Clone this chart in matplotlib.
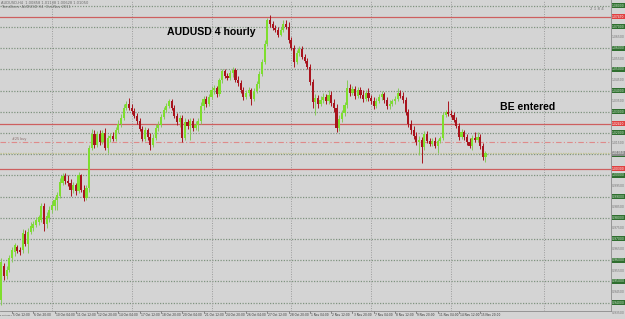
import numpy as np
import pandas as pd
import matplotlib
matplotlib.use("Agg")
import matplotlib.pyplot as plt
from matplotlib.transforms import blended_transform_factory
from matplotlib.patches import Rectangle

# ---------------- data (AUDUSD H4, Oct-Nov 2011) ----------------
first_bar_time = "2011-10-05 12:00"   # bar index 0
bar_index = list(range(-4, 179))

opens = [
    .9411, .9572, .9525, .9553,
    .9609, .9638, .9661, .9647, .9647, .9722, .9675, .9732, .9751, .9765,
    .9780, .9789, .9855, .9770, .9798, .9836, .9855, .9883, .9902, .9963,
    .9997, .9972, .9963, .9930, .9953, .9925, 1.0001, .9930, .9892, .9939,
    1.0128, 1.0194, 1.0142, 1.0194, 1.0157, 1.0199, 1.0128, 1.0175, 1.0185, 1.0170,
    1.0213, 1.0242, 1.0270, 1.0317, 1.0336, 1.0317, 1.0303, 1.0280, 1.0256, 1.0219,
    1.0170, 1.0213, 1.0180, 1.0142, 1.0175, 1.0223, 1.0237, 1.0275, 1.0308, 1.0327,
    1.0350, 1.0317, 1.0280, 1.0252, 1.0270, 1.0175, 1.0252, 1.0233, 1.0256, 1.0223,
    1.0237, 1.0256, 1.0327, 1.0360, 1.0336, 1.0369, 1.0402, 1.0411, 1.0383, 1.0449,
    1.0492, 1.0469, 1.0459, 1.0483, 1.0497, 1.0449, 1.0435, 1.0402, 1.0369, 1.0388,
    1.0402, 1.0360, 1.0397, 1.0430, 1.0478, 1.0535, 1.0619, 1.0733, 1.0714, 1.0695,
    1.0685, 1.0661, 1.0685, 1.0714, 1.0700, 1.0638, 1.0600, 1.0535, 1.0577, 1.0596,
    1.0558, 1.0539, 1.0511, 1.0440, 1.0345, 1.0364, 1.0336, 1.0355, 1.0369, 1.0350,
    1.0378, 1.0341, 1.0317, 1.0223, 1.0266, 1.0294, 1.0331, 1.0411, 1.0388, 1.0407,
    1.0374, 1.0402, 1.0378, 1.0360, 1.0388, 1.0364, 1.0350, 1.0327, 1.0350, 1.0369,
    1.0383, 1.0355, 1.0327, 1.0336, 1.0350, 1.0360, 1.0388, 1.0374, 1.0355, 1.0299,
    1.0242, 1.0213, 1.0185, 1.0157, 1.0166, 1.0133, 1.0194, 1.0161, 1.0147, 1.0161,
    1.0138, 1.0161, 1.0175, 1.0284, 1.0299, 1.0289, 1.0284, 1.0261, 1.0233, 1.0180,
    1.0204, 1.0180, 1.0157, 1.0138, 1.0175, 1.0166, 1.0180, 1.0138, 1.0086,
]
highs = [
    .9609, .9586, .9572, .9623,
    .9661, .9680, .9670, .9661, .9747, .9741, .9751, .9780, .9784, .9803,
    .9812, .9869, .9869, .9827, .9855, .9878, .9897, .9921, .9987, 1.0011,
    1.0011, 1.0001, .9982, .9968, .9963, 1.0016, 1.0006, .9953, .9953, 1.0142,
    1.0219, 1.0213, 1.0208, 1.0213, 1.0213, 1.0223, 1.0189, 1.0199, 1.0204, 1.0228,
    1.0261, 1.0289, 1.0336, 1.0350, 1.0364, 1.0336, 1.0317, 1.0294, 1.0270, 1.0233,
    1.0228, 1.0223, 1.0199, 1.0194, 1.0242, 1.0256, 1.0289, 1.0322, 1.0341, 1.0360,
    1.0360, 1.0331, 1.0294, 1.0284, 1.0284, 1.0270, 1.0266, 1.0270, 1.0270, 1.0256,
    1.0270, 1.0345, 1.0374, 1.0374, 1.0383, 1.0421, 1.0425, 1.0421, 1.0459, 1.0502,
    1.0502, 1.0483, 1.0497, 1.0511, 1.0506, 1.0469, 1.0449, 1.0416, 1.0402, 1.0416,
    1.0411, 1.0411, 1.0444, 1.0492, 1.0549, 1.0638, 1.0742, 1.0756, 1.0728, 1.0709,
    1.0700, 1.0700, 1.0733, 1.0733, 1.0723, 1.0652, 1.0614, 1.0591, 1.0610, 1.0610,
    1.0572, 1.0553, 1.0525, 1.0454, 1.0383, 1.0378, 1.0374, 1.0388, 1.0383, 1.0402,
    1.0397, 1.0360, 1.0336, 1.0284, 1.0308, 1.0345, 1.0449, 1.0430, 1.0421, 1.0421,
    1.0416, 1.0416, 1.0402, 1.0402, 1.0411, 1.0378, 1.0369, 1.0364, 1.0383, 1.0397,
    1.0392, 1.0369, 1.0355, 1.0360, 1.0374, 1.0411, 1.0402, 1.0392, 1.0369, 1.0313,
    1.0261, 1.0233, 1.0204, 1.0185, 1.0180, 1.0208, 1.0208, 1.0175, 1.0175, 1.0180,
    1.0170, 1.0185, 1.0299, 1.0308, 1.0350, 1.0308, 1.0299, 1.0275, 1.0247, 1.0218,
    1.0213, 1.0194, 1.0175, 1.0189, 1.0204, 1.0204, 1.0194, 1.0152, 1.0114,
]
lows = [
    .9387, .9505, .9511, .9544,
    .9591, .9619, .9633, .9623, .9633, .9666, .9633, .9722, .9736, .9756,
    .9765, .9780, .9736, .9751, .9780, .9822, .9836, .9836, .9892, .9953,
    .9958, .9949, .9902, .9916, .9906, .9916, .9921, .9878, .9883, .9921,
    1.0119, 1.0128, 1.0133, 1.0142, 1.0147, 1.0119, 1.0105, 1.0157, 1.0161, 1.0161,
    1.0199, 1.0228, 1.0261, 1.0308, 1.0308, 1.0289, 1.0270, 1.0242, 1.0208, 1.0161,
    1.0161, 1.0166, 1.0119, 1.0133, 1.0166, 1.0208, 1.0228, 1.0266, 1.0299, 1.0317,
    1.0308, 1.0270, 1.0237, 1.0228, 1.0157, 1.0166, 1.0218, 1.0166, 1.0208, 1.0213,
    1.0208, 1.0242, 1.0308, 1.0322, 1.0327, 1.0360, 1.0383, 1.0369, 1.0374, 1.0435,
    1.0459, 1.0449, 1.0449, 1.0464, 1.0440, 1.0421, 1.0388, 1.0355, 1.0360, 1.0374,
    1.0331, 1.0350, 1.0388, 1.0411, 1.0469, 1.0525, 1.0610, 1.0700, 1.0685, 1.0676,
    1.0652, 1.0657, 1.0676, 1.0690, 1.0624, 1.0591, 1.0511, 1.0525, 1.0563, 1.0549,
    1.0530, 1.0502, 1.0425, 1.0317, 1.0284, 1.0317, 1.0327, 1.0341, 1.0336, 1.0336,
    1.0327, 1.0299, 1.0204, 1.0208, 1.0252, 1.0280, 1.0317, 1.0374, 1.0378, 1.0360,
    1.0364, 1.0364, 1.0345, 1.0350, 1.0350, 1.0336, 1.0313, 1.0317, 1.0341, 1.0355,
    1.0341, 1.0313, 1.0313, 1.0327, 1.0336, 1.0350, 1.0364, 1.0341, 1.0284, 1.0228,
    1.0194, 1.0170, 1.0142, 1.0095, 1.0058, 1.0119, 1.0152, 1.0138, 1.0138, 1.0128,
    1.0105, 1.0152, 1.0166, 1.0275, 1.0280, 1.0275, 1.0252, 1.0223, 1.0166, 1.0170,
    1.0166, 1.0142, 1.0128, 1.0119, 1.0157, 1.0157, 1.0124, 1.0072, 1.0063,
]
closes = [
    .9591, .9525, .9553, .9609,
    .9647, .9670, .9642, .9638, .9727, .9675, .9732, .9761, .9770, .9789,
    .9803, .9855, .9770, .9808, .9836, .9859, .9883, .9906, .9968, .9997,
    .9972, .9963, .9930, .9953, .9925, 1.0001, .9930, .9892, .9939, 1.0128,
    1.0194, 1.0142, 1.0194, 1.0157, 1.0199, 1.0128, 1.0175, 1.0185, 1.0170, 1.0213,
    1.0242, 1.0270, 1.0317, 1.0336, 1.0317, 1.0303, 1.0280, 1.0256, 1.0219, 1.0170,
    1.0213, 1.0180, 1.0142, 1.0175, 1.0223, 1.0237, 1.0275, 1.0308, 1.0327, 1.0350,
    1.0317, 1.0280, 1.0252, 1.0270, 1.0175, 1.0252, 1.0233, 1.0256, 1.0223, 1.0237,
    1.0256, 1.0327, 1.0360, 1.0336, 1.0369, 1.0402, 1.0411, 1.0383, 1.0449, 1.0492,
    1.0469, 1.0459, 1.0483, 1.0497, 1.0449, 1.0435, 1.0402, 1.0369, 1.0388, 1.0402,
    1.0360, 1.0397, 1.0430, 1.0478, 1.0535, 1.0619, 1.0733, 1.0714, 1.0695, 1.0685,
    1.0661, 1.0685, 1.0714, 1.0700, 1.0638, 1.0600, 1.0535, 1.0577, 1.0596, 1.0558,
    1.0539, 1.0511, 1.0440, 1.0345, 1.0364, 1.0336, 1.0355, 1.0369, 1.0350, 1.0378,
    1.0341, 1.0317, 1.0223, 1.0266, 1.0294, 1.0331, 1.0411, 1.0388, 1.0407, 1.0374,
    1.0402, 1.0378, 1.0360, 1.0388, 1.0364, 1.0350, 1.0327, 1.0350, 1.0369, 1.0383,
    1.0355, 1.0327, 1.0336, 1.0350, 1.0360, 1.0388, 1.0374, 1.0355, 1.0299, 1.0242,
    1.0213, 1.0185, 1.0157, 1.0166, 1.0133, 1.0194, 1.0161, 1.0147, 1.0161, 1.0138,
    1.0161, 1.0175, 1.0284, 1.0299, 1.0289, 1.0284, 1.0261, 1.0233, 1.0180, 1.0204,
    1.0180, 1.0157, 1.0138, 1.0175, 1.0166, 1.0180, 1.0138, 1.0086, 1.0105,
]

red_levels = [1.0747, 1.0242, 1.0030]
entry_level = 1.0157
bid_price = 1.0105
grid_prices = [1.08 - 0.01 * k for k in range(15)]
week_starts = [15, 45, 75, 105, 135, 165, 200]
label_every = 8
title_text = "AUDUSD 4 hourly"
note_text = "BE entered"
info_line1 = "AUDUSD,H4  1.00858 1.01138 1.00628 1.01050"
info_line2 = "Trendlines  AUDUSD H4  Oct-Nov 2011"

# ---------------- styling ----------------
W, H = 625, 319
bg = "#d4d4d4"
bull = "#7ede2e"
bull_wick = "#86c95a"
bear = "#a8141e"
bear_wick = "#a8141e"
grid_h = "#7f937f"
grid_v = "#9c9c9c"

fig = plt.figure(figsize=(W / 100, H / 100), dpi=100, facecolor=bg)
plot_right = 611
plot_bottom = 8
ax = fig.add_axes([0, plot_bottom / H, plot_right / W, (H - plot_bottom) / H])
ax.set_facecolor(bg)

px_per_bar = 2.66
x0_px = 12.0
ax.set_xlim((0 - x0_px) / px_per_bar, (plot_right - x0_px) / px_per_bar)
price_per_px = 0.01 / 21.2
top_price = 1.08 + 5.7 * price_per_px
ax.set_ylim(top_price - (H - plot_bottom) * price_per_px, top_price)

for s in ["top", "left"]:
    ax.spines[s].set_visible(False)
for s in ["bottom", "right"]:
    ax.spines[s].set_color("#8a8a8a")
    ax.spines[s].set_linewidth(0.6)
ax.set_xticks([])
ax.set_yticks([])

# grid
for gp in grid_prices:
    ax.axhline(gp, color=grid_h, lw=0.9, ls=(0, (1.0, 1.2)), zorder=1)
for wk in week_starts:
    ax.axvline(wk, color=grid_v, lw=0.7, ls=(0, (1.0, 1.5)), zorder=1)

# level lines
for lv in red_levels:
    ax.axhline(lv, color="#cd5f5f", lw=0.9, zorder=2)
ax.axhline(entry_level, color="#df8a8a", lw=0.8, ls=(0, (5, 2, 1, 2)), zorder=2)
ax.axhline(bid_price, color="#c4c48c", lw=0.9, ls=(0, (1.0, 1.0)), zorder=2)

# candles
idx = np.array(bar_index, dtype=float)
o = np.array(opens); h = np.array(highs); l = np.array(lows); c = np.array(closes)
up = c >= o
ax.vlines(idx[up], l[up], h[up], color=bull_wick, lw=0.7, zorder=3)
ax.vlines(idx[~up], l[~up], h[~up], color=bear_wick, lw=0.7, zorder=3)
body_lo = np.minimum(o, c)
body_h = np.maximum(np.abs(c - o), 0.00015)
ax.bar(idx[up], body_h[up], bottom=body_lo[up], width=0.8, color=bull,
       edgecolor="none", zorder=4)
ax.bar(idx[~up], body_h[~up], bottom=body_lo[~up], width=0.8, color=bear,
       edgecolor="none", zorder=4)

# annotations
ax.text(167 / plot_right, 1 - 32 / (H - plot_bottom), title_text,
        transform=ax.transAxes, fontsize=7.6, fontweight="bold",
        family="Liberation Sans", ha="left", va="center", color="black")
ax.text(500 / plot_right, 1 - 107 / (H - plot_bottom), note_text,
        transform=ax.transAxes, fontsize=7.6, fontweight="bold",
        family="Liberation Sans", ha="left", va="center", color="black")
ax.text(0.002, 1 - 3 / (H - plot_bottom), info_line1, transform=ax.transAxes,
        fontsize=2.6, color="#6a6a6a", ha="left", va="center")
ax.text(0.002, 1 - 7.5 / (H - plot_bottom), info_line2, transform=ax.transAxes,
        fontsize=2.6, color="#6a6a6a", ha="left", va="center")
ax.text(597 / plot_right, 1 - 9 / (H - plot_bottom), "2 1 8 4", transform=ax.transAxes,
        fontsize=2.8, color="#707070", ha="center", va="center")
ax.text(0.002, entry_level + 0.0006, "#25 buy", fontsize=2.4, color="#8a6a6a",
        ha="left", va="bottom")

# time labels
times = pd.date_range("2011-10-03", "2011-12-05", freq="4h")
times = times[times.dayofweek < 5]
zero = list(times).index(pd.Timestamp(first_bar_time))
trans = blended_transform_factory(ax.transData, fig.transFigure)
ax.text(-4.45, 4 / H, "4 Oct 2011", transform=trans, fontsize=1.5,
        color="#303030", ha="left", va="center", clip_on=False)
for b in range(0, max(bar_index) + 1, label_every):
    t = times[zero + b]
    lab = f"{t.day} {t:%b} {t:%H:%M}"
    ax.text(b + 0.4, 4 / H, lab, transform=trans, fontsize=2.1, color="#303030",
            ha="left", va="center", clip_on=False)
    ax.plot([b, b], [plot_bottom / H, (plot_bottom - 2) / H], transform=trans,
            color="#606060", lw=0.5, clip_on=False)

# price scale
axr = fig.add_axes([plot_right / W, plot_bottom / H, (W - plot_right) / W,
                    (H - plot_bottom) / H], sharey=ax)
axr.set_facecolor(bg)
axr.set_xlim(0, 1)
axr.axis("off")
bh = 5 * price_per_px
boxed = list(red_levels) + [bid_price]
for gp in grid_prices:
    axr.add_patch(Rectangle((0.05, gp - bh / 2), 0.95, bh, color="#2f6e2f", lw=0))
    axr.text(0.52, gp, f"{gp:.5f}", fontsize=2.2, color="#d8f0d8",
             ha="center", va="center")
    mid = gp - 0.005
    if all(abs(mid - b) > 6 * price_per_px for b in boxed):
        axr.text(0.52, mid, f"{mid:.5f}", fontsize=2.2, color="#707070",
                 ha="center", va="center")
for lv in red_levels:
    axr.add_patch(Rectangle((0.05, lv - bh / 2), 0.95, bh, color="#e04040", lw=0, zorder=3))
    axr.text(0.52, lv, f"{lv:.5f}", fontsize=2.2, color="white",
             ha="center", va="center", zorder=4)
axr.add_patch(Rectangle((0.05, bid_price - bh / 2), 0.95, bh, color="#8c8c8c", lw=0, zorder=3))
axr.text(0.52, bid_price, f"{bid_price:.5f}", fontsize=2.2, color="white",
         ha="center", va="center", zorder=4)

fig.savefig("out.png", dpi=100, facecolor=bg)
